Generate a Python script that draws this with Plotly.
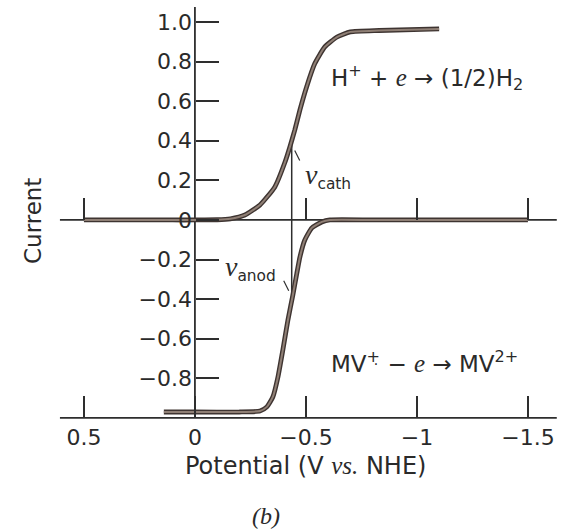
import numpy as np
import plotly.graph_objects as go

# ---------------- data ----------------
CATH_POT = [0.5, 0.3, 0.1, 0.0, -0.1, -0.16, -0.225, -0.293, -0.36, -0.405, -0.428, -0.45,
            -0.473, -0.503, -0.54, -0.585, -0.64, -0.70, -0.83, -1.1]
CATH_CUR = [0, 0, 0, 0, 0.001, 0.006, 0.025, 0.076, 0.167, 0.29, 0.37, 0.455,
            0.556, 0.672, 0.79, 0.874, 0.924, 0.95, 0.957, 0.965]

ANOD_POT = [0.14, 0.0, -0.2, -0.293, -0.324, -0.351, -0.374, -0.396, -0.419, -0.441,
            -0.459, -0.473, -0.495, -0.527, -0.572, -0.608, -0.8, -1.0, -1.2, -1.5]
ANOD_CUR = [-0.97, -0.97, -0.97, -0.965, -0.944, -0.894, -0.793, -0.657, -0.505, -0.38,
            -0.27, -0.187, -0.101, -0.04, -0.01, 0, 0, 0, 0, 0]

X_TICKS = [0.5, 0, -0.5, -1, -1.5]
X_TICK_TEXT = ["0.5", "0", "\u22120.5", "\u22121", "\u22121.5"]
Y_TICKS = [1.0, 0.8, 0.6, 0.4, 0.2, 0, -0.2, -0.4, -0.6, -0.8]
Y_TICK_TEXT = ["1.0", "0.8", "0.6", "0.4", "0.2", "0", "\u22120.2", "\u22120.4", "\u22120.6", "\u22120.8"]

V_POT = -0.436          # potential of the marked vertical line
AXIS_BOTTOM = -1.0      # current level of the lower potential axis
AXIS_X_LEFT, AXIS_X_RIGHT = 0.608, -1.63
Y_AXIS_TOP = 1.076

# ---------------- geometry ----------------
W, H = 563, 532
X_RANGE = [0.878, -1.658]
Y_RANGE = [-1.576, 1.111]


def px_x(px):
    return X_RANGE[0] + (X_RANGE[1] - X_RANGE[0]) * px / W


def paper_y(v):
    return (v - Y_RANGE[0]) / (Y_RANGE[1] - Y_RANGE[0])


def paper_x(v):
    return (v - X_RANGE[0]) / (X_RANGE[1] - X_RANGE[0])


DX = (X_RANGE[0] - X_RANGE[1]) / W   # data units per pixel (x, positive)
DY = (Y_RANGE[1] - Y_RANGE[0]) / H   # data units per pixel (y)

AX_COL = "#2e2e2e"
TXT_COL = "#2a2a2a"
FONT = "DejaVu Sans"
SERIF = "Liberation Serif"

fig = go.Figure()

for pot, cur in [(CATH_POT, CATH_CUR), (ANOD_POT, ANOD_CUR)]:
    fig.add_trace(go.Scatter(x=pot, y=cur, mode="lines",
                             line=dict(color="#3e3431", width=4.8, shape="spline", smoothing=0.5),
                             hoverinfo="skip", showlegend=False))
    fig.add_trace(go.Scatter(x=pot, y=cur, mode="lines",
                             line=dict(color="#8f7f75", width=2.0, shape="spline", smoothing=0.5),
                             hoverinfo="skip", showlegend=False))

# second x axis carrying the ticks on the zero-current line
fig.add_trace(go.Scatter(x=[X_TICKS[0]], y=[0], xaxis="x2", mode="markers",
                         marker=dict(opacity=0), hoverinfo="skip", showlegend=False))

shapes = []
line = dict(color=AX_COL, width=1.8)
# lower axis line
shapes.append(dict(type="line", xref="x", yref="y", x0=AXIS_X_LEFT, x1=AXIS_X_RIGHT,
                   y0=AXIS_BOTTOM, y1=AXIS_BOTTOM, line=line, layer="below"))
# zero line, interrupted around the "0" label
shapes.append(dict(type="line", xref="x", yref="y", x0=AXIS_X_LEFT, x1=px_x(168),
                   y0=0, y1=0, line=line, layer="below"))
shapes.append(dict(type="line", xref="x", yref="y", x0=px_x(188), x1=AXIS_X_RIGHT,
                   y0=0, y1=0, line=line, layer="below"))
# vertical current axis
shapes.append(dict(type="line", xref="x", yref="y", x0=0, x1=0,
                   y0=AXIS_BOTTOM, y1=Y_AXIS_TOP, line=line, layer="below"))

# vertical marker between the curves
cp = np.array(CATH_POT)[::-1]
cc = np.array(CATH_CUR)[::-1]
ap = np.array(ANOD_POT)[::-1]
ac = np.array(ANOD_CUR)[::-1]
top = float(np.interp(V_POT, cp, cc))
bot = float(np.interp(V_POT, ap, ac))
thin = dict(color=AX_COL, width=1.5)
shapes.append(dict(type="line", xref="x", yref="y", x0=V_POT, x1=V_POT, y0=bot, y1=top,
                   line=thin, layer="below"))
# half-arrow barbs
shapes.append(dict(type="line", xref="x", yref="y", x0=V_POT - 3 * DX, y0=top - 10 * DY,
                   x1=V_POT - 8 * DX, y1=top - 20 * DY, line=dict(color=AX_COL, width=1.2)))
shapes.append(dict(type="line", xref="x", yref="y", x0=V_POT + 3 * DX, y0=bot + 10 * DY,
                   x1=V_POT + 8 * DX, y1=bot + 20 * DY, line=dict(color=AX_COL, width=1.2)))

ann = []


def text(px, py, s, size=22, xanchor="center", **kw):
    ann.append(dict(xref="paper", yref="paper", x=px / W, y=1 - py / H, text=s, showarrow=False,
                    xanchor=xanchor, yanchor="middle",
                    font=dict(family=FONT, size=size, color=TXT_COL), **kw))


def it(s, size=24):
    return f"<span style='font-family:{SERIF};font-style:italic;font-size:{size}px'>{s}</span>"


text(329, 78, "H<sup>+</sup> + " + it("e", 25) + " \u2192 (1/2)H<sub>2</sub>", size=23, xanchor="left")
text(329, 362, "MV<sup>+\u0323</sup> \u2212 " + it("e", 25) + " \u2192 MV<sup>2+</sup>", size=23,
     xanchor="left")
text(303, 176, it("v", 28) + "<sub>cath</sub>", xanchor="left")
text(223, 268, it("v", 28) + "<sub>anod</sub>", xanchor="left")
text(305, 466, "Potential (V " + it("vs.", 25) + " NHE)", size=24)
text(266, 516, it("(b)", 24), size=22)
text(33, 221, "Current", size=23, textangle=-90)

tickfont = dict(family=FONT, size=22, color=TXT_COL)
fig.update_layout(
    width=W, height=H, margin=dict(l=0, r=0, t=0, b=0),
    paper_bgcolor="white", plot_bgcolor="white",
    shapes=shapes, annotations=ann, showlegend=False,
    xaxis=dict(range=X_RANGE, domain=[0, 1], anchor="free", position=paper_y(AXIS_BOTTOM),
               tickvals=X_TICKS, ticktext=X_TICK_TEXT, ticks="inside", ticklen=22,
               tickwidth=1.5, tickcolor=AX_COL, showgrid=False, zeroline=False, showline=False,
               tickfont=tickfont, ticklabelstandoff=4),
    xaxis2=dict(range=X_RANGE, overlaying="x", anchor="free", position=paper_y(0),
                tickvals=[t for t in X_TICKS if t != 0], ticks="inside", ticklen=22,
                tickwidth=1.5, tickcolor=AX_COL, showticklabels=False, showgrid=False,
                zeroline=False, showline=False),
    yaxis=dict(range=Y_RANGE, domain=[0, 1], anchor="free", position=paper_x(0),
               tickvals=Y_TICKS, ticktext=Y_TICK_TEXT, ticks="inside", ticklen=23,
               tickwidth=1.5, tickcolor=AX_COL, showgrid=False, zeroline=False, showline=False,
               tickfont=tickfont, ticklabelstandoff=3),
)

fig.write_html("out.html")
